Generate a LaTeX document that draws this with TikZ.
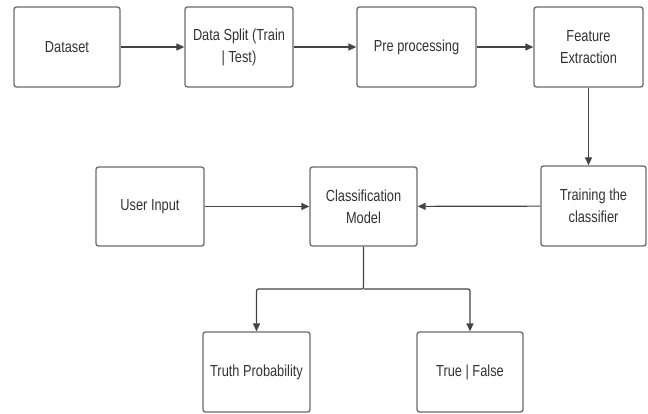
\documentclass[tikz,border=0pt]{standalone}
\usepackage{fontspec}
\newfontfamily\boxfont{Liberation Sans}[FakeStretch=0.8]
\usetikzlibrary{arrows.meta}
\definecolor{boxline}{HTML}{6A6A6A}
\definecolor{conn}{HTML}{444444}
\definecolor{txt}{HTML}{333333}
\begin{document}
\begin{tikzpicture}[x=1pt,y=-1pt,
  box/.style={draw=boxline, line width=1.3pt, rounded corners=2.5pt, fill=white,
    text=txt, align=center, inner sep=2pt,
    font=\boxfont\fontsize{16}{22}\selectfont},
  conn/.style={draw=conn, line width=1.2pt, -{Triangle[length=8pt,width=7pt]}}]
\useasboundingbox (0,0) rectangle (648,413);
\node[box, minimum width=106pt, minimum height=80pt] (ds) at (67,47) {Dataset};
\node[box, minimum width=108pt, minimum height=80pt] (split) at (239,47) {Data Split (Train\\| Test)};
\node[box, minimum width=119pt, minimum height=80pt] (pre) at (416.5,47) {Pre processing};
\node[box, minimum width=109pt, minimum height=80pt] (feat) at (588.5,47) {Feature\\Extraction};
\node[box, minimum width=105pt, minimum height=80pt] (train) at (593.5,206) {Training the\\classifier};
\node[box, minimum width=107pt, minimum height=79pt] (cls) at (363.5,206.5) {Classification\\Model};
\node[box, minimum width=108pt, minimum height=79pt] (user) at (150,206.5) {User Input};
\node[box, minimum width=107pt, minimum height=80pt] (truth) at (256.5,372) {Truth Probability};
\node[box, minimum width=106pt, minimum height=80pt] (tf) at (470,372) {True | False};
\coordinate (split0) at (363.5,289);
\draw[conn] (ds) -- (split);
\draw[conn] (split) -- (pre);
\draw[conn] (pre) -- (feat);
\draw[conn] (feat.south) -- (feat.south |- train.north);
\draw[conn] (train) -- (cls);
\draw[conn] (user) -- (cls);
\draw[conn, rounded corners=2pt] (cls.south) -- (split0) -| (truth.north);
\draw[conn, rounded corners=2pt] (split0) -| (tf.north);
\end{tikzpicture}
\end{document}
